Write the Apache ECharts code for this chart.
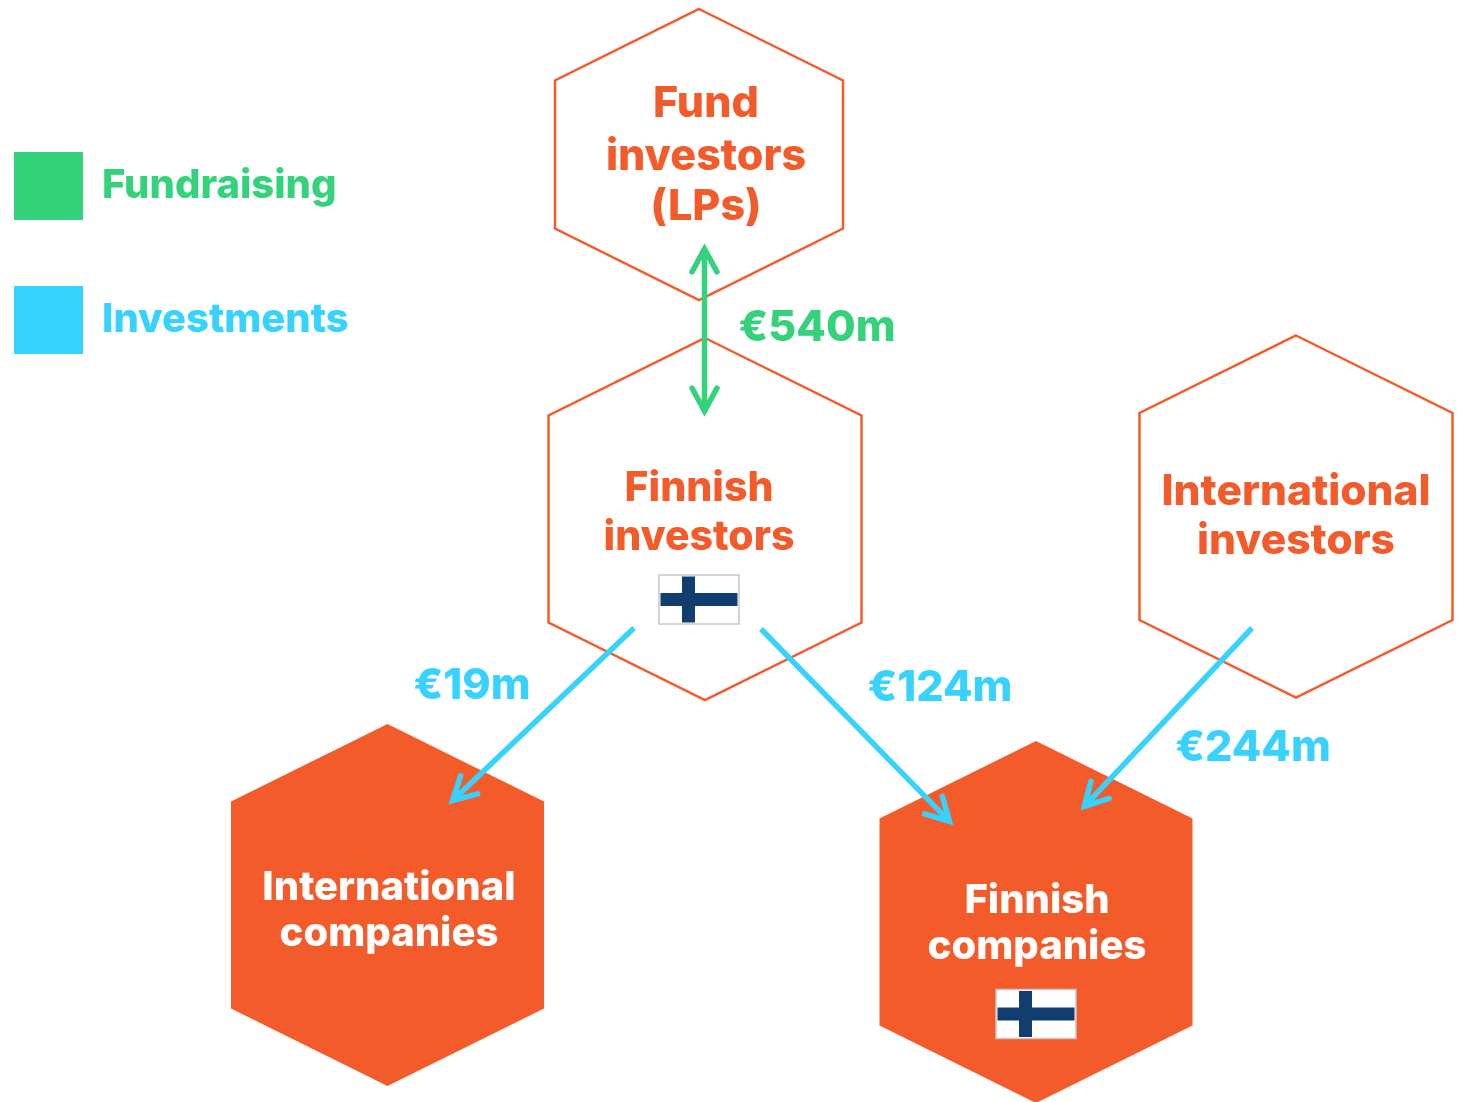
<!DOCTYPE html>
<html>
<head>
<meta charset="utf-8">
<title>Fundraising and investments</title>
<script src="https://cdn.jsdelivr.net/npm/echarts@6/dist/echarts.min.js"></script>
<style>
  html, body { margin: 0; padding: 0; background: #fff; }
  #main { width: 1463px; height: 1102px; }
</style>
</head>
<body>
<div id="main"></div>
<script>
// nodes
const nodeNames = ['Fund investors', 'Finnish investors', 'International investors', 'International companies', 'Finnish companies']
const nodeX = [699, 705, 1296, 387.5, 1036]
const nodeY = [154.5, 519, 516.5, 905, 922]
const nodeFilled = [false, false, false, true, true]
const nodeLabels = [
  ['Fund', 'investors', '(LPs)'],
  ['Finnish', 'investors'],
  ['International', 'investors'],
  ['International', 'companies'],
  ['Finnish', 'companies']
]
const labelX = [706, 699, 1296, 389, 1037]
const labelY = [[104, 157, 207], [489, 538], [492, 541], [888, 934], [901, 947]]
const labelSize = [43, 41, 42.5, 40, 40]

// flows
const fundraisingValues = [540]
const fundraisingFrom = [[704.5, 416]]
const fundraisingTo = [[704.5, 244]]
const fundraisingLabelAt = [[817, 328]]

const investmentValues = [19, 124, 244]
const investmentFrom = [[634, 628], [761, 629], [1252, 628]]
const investmentTo = [[449, 804], [953, 825], [1081, 810]]
const investmentLabelAt = [[472, 686], [940, 688], [1253, 748]]

const flagX = [699, 1036]
const flagY = [599.5, 1014]

const ORANGE = '#f35b2a'
const GREEN = '#34d27b'
const BLUE = '#38d2ff'
const FONT = 'Inter, sans-serif'

function hexPoints(api, cx, cy) {
  // half width 157, half height 181 for the four big ones, fund hexagon is smaller
  const small = cy < 200
  const w = small ? 144 : 156.5
  const h = small ? 145.5 : 181
  const s = small ? 74 : 103.5
  return [[0, -h], [w, -s], [w, s], [0, h], [-w, s], [-w, -s]].map(p => api.coord([cx + p[0], cy + p[1]]))
}

function head(tip, from) {
  const a = Math.atan2(from[1] - tip[1], from[0] - tip[0])
  const len = 26
  const spread = 0.5
  // miter pokes past the corner, so pull the corner back a bit
  const t = [tip[0] + 5 * Math.cos(a), tip[1] + 5 * Math.sin(a)]
  return [
    [t[0] + len * Math.cos(a + spread), t[1] + len * Math.sin(a + spread)],
    t,
    [t[0] + len * Math.cos(a - spread), t[1] + len * Math.sin(a - spread)]
  ]
}

function textEl(str, pos, color, size) {
  return {
    type: 'text',
    z2: 20,
    style: { text: str, x: pos[0], y: pos[1], fill: color, font: `800 ${size}px ${FONT}`, align: 'center', verticalAlign: 'middle' }
  }
}

function flowRenderer(from, to, labelAt, values, color, both) {
  return function (params, api) {
    const i = params.dataIndex
    const a = api.coord(from[i])
    const b = api.coord(to[i])
    const lineStyle = { stroke: color, lineWidth: 5.5, fill: null, lineCap: 'round', lineJoin: 'miter', miterLimit: 10 }
    const back = 4
    const ang = Math.atan2(a[1] - b[1], a[0] - b[0])
    const children = [
      {
        type: 'line',
        shape: {
          x1: both ? a[0] - back * Math.cos(ang) : a[0],
          y1: both ? a[1] - back * Math.sin(ang) : a[1],
          x2: b[0] + back * Math.cos(ang),
          y2: b[1] + back * Math.sin(ang)
        },
        style: { stroke: color, lineWidth: 5.5 }
      },
      { type: 'polyline', shape: { points: head(b, a) }, style: lineStyle }
    ]
    if (both) children.push({ type: 'polyline', shape: { points: head(a, b) }, style: lineStyle })
    children.push(textEl(`€${values[i]}m`, api.coord(labelAt[i]), color, 43))
    return { type: 'group', children }
  }
}

const myChart = echarts.init(document.getElementById('main'))
myChart.setOption({
  animation: false,
  grid: { left: 0, right: 0, top: 0, bottom: 0 },
  xAxis: { type: 'value', min: 0, max: 1463, show: false },
  yAxis: { type: 'value', min: 0, max: 1102, inverse: true, show: false },
  legend: {
    orient: 'vertical',
    left: 9,
    top: 147,
    itemWidth: 69,
    itemHeight: 68,
    itemGap: 66,
    selectedMode: false,
    data: [
      { name: 'Fundraising', icon: 'rect', textStyle: { color: GREEN } },
      { name: 'Investments', icon: 'rect', textStyle: { color: BLUE } }
    ],
    textStyle: { fontFamily: FONT, fontWeight: 800, fontSize: 40, padding: [14, 0, 0, 14] }
  },
  series: [
    {
      name: 'Nodes',
      type: 'custom',
      coordinateSystem: 'cartesian2d',
      z: 1,
      data: nodeNames.map((n, i) => [nodeX[i], nodeY[i]]),
      renderItem(params, api) {
        const i = params.dataIndex
        const children = [{
          type: 'polygon',
          shape: { points: hexPoints(api, nodeX[i], nodeY[i]) },
          style: nodeFilled[i]
            ? { fill: ORANGE, stroke: null }
            : { fill: 'none', stroke: ORANGE, lineWidth: 2.5 }
        }]
        nodeLabels[i].forEach((line, j) => {
          children.push(textEl(line, api.coord([labelX[i], labelY[i][j]]), nodeFilled[i] ? '#fff' : ORANGE, labelSize[i]))
        })
        return { type: 'group', children }
      }
    },
    {
      name: 'Flags',
      type: 'custom',
      coordinateSystem: 'cartesian2d',
      z: 2,
      data: flagX.map((x, i) => [x, flagY[i]]),
      renderItem(params, api) {
        const c = api.coord([flagX[params.dataIndex], flagY[params.dataIndex]])
        const navy = '#123d6f'
        return {
          type: 'group',
          children: [
            { type: 'rect', shape: { x: c[0] - 40, y: c[1] - 24.5, width: 80, height: 49 }, style: { fill: '#fff', stroke: '#c8c8c8', lineWidth: 1.5 } },
            { type: 'rect', shape: { x: c[0] - 38.5, y: c[1] - 6.5, width: 77, height: 13 }, style: { fill: navy } },
            { type: 'rect', shape: { x: c[0] - 17, y: c[1] - 23, width: 13, height: 46 }, style: { fill: navy } }
          ]
        }
      }
    },
    {
      name: 'Fundraising',
      type: 'custom',
      coordinateSystem: 'cartesian2d',
      z: 3,
      itemStyle: { color: GREEN },
      data: fundraisingValues,
      encode: { x: 0, y: 0 },
      renderItem: flowRenderer(fundraisingFrom, fundraisingTo, fundraisingLabelAt, fundraisingValues, GREEN, true)
    },
    {
      name: 'Investments',
      type: 'custom',
      coordinateSystem: 'cartesian2d',
      z: 3,
      itemStyle: { color: BLUE },
      data: investmentValues,
      encode: { x: 0, y: 0 },
      renderItem: flowRenderer(investmentFrom, investmentTo, investmentLabelAt, investmentValues, BLUE, false)
    }
  ]
})
</script>
</body>
</html>
